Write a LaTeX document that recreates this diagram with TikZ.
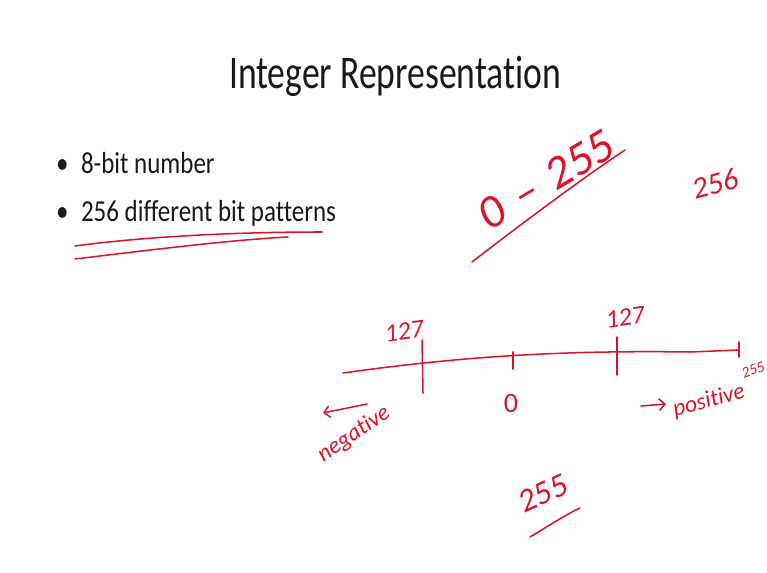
\documentclass[tikz,border=0pt]{standalone}
\usepackage{fontspec}
\setmainfont{Carlito}[Ligatures=NoCommon]
\usetikzlibrary{arrows.meta, positioning}
\definecolor{InkRed}{rgb}{0.86, 0.08, 0.16}
\definecolor{SlideText}{rgb}{0.1, 0.1, 0.1}
\newcommand{\squeeze}[2]{\scalebox{#1}[1]{#2}}

\begin{document}
\begin{tikzpicture}[
    x=0.03cm, y=-0.03cm,
    title/.style={font=\fontsize{40}{44}\selectfont, text=SlideText},
    bullet/.style={font=\fontsize{26}{30}\selectfont, text=SlideText, anchor=west},
    ink/.style={InkRed, line width=1.3pt, line cap=round, line join=round},
    inktext/.style={text=InkRed, font=\fontsize{20}{22}\selectfont\itshape},
    bigink/.style={text=InkRed, font=\fontsize{40}{42}\selectfont\itshape},
    tick/.style={ink},
]
\useasboundingbox (0,0) rectangle (767,573);

% slide
\node[title] (ttl) at (395,76) {\squeeze{0.76}{Integer Representation}};
\node[bullet] (b1) at (52,163) {\squeeze{0.82}{\textbullet\hspace{0.5em}8-bit number}};
\node[bullet] (b2) at (52,213) {\squeeze{0.82}{\textbullet\hspace{0.5em}256 different bit patterns}};

% underlines of the second bullet
\draw[ink] (75,246) .. controls (150,236) and (240,232) .. (322,232);
\draw[ink] (75,259) .. controls (150,250) and (230,240) .. (288,237);

% range written above
\node[bigink, rotate=31] (range) at (546,180) {0\,\,--\,\,255};
\draw[ink] (472,262) .. controls (520,225) and (580,180) .. (625,150);
\node[inktext, font=\fontsize{26}{28}\selectfont\itshape, rotate=15] (count) at (715,184) {256};

% number line
\coordinate (left) at (343,373);
\coordinate (right) at (739,350);
\draw[ink] (left) .. controls (450,358) and (550,350) .. (690,352) -- (right);
\draw[tick] (422,340) -- (423,393);
\draw[tick] (513,352) -- (513,369);
\draw[tick] (617,337) -- (617,375);
\draw[tick] (739,342) -- (739,357);
\node[inktext, font=\fontsize{22}{24}\selectfont\itshape, rotate=8] (n127) at (404,331) {127};
\node[inktext, font=\fontsize{22}{24}\selectfont\itshape, rotate=8] (p127) at (625,317) {127};
\node[inktext, font=\fontsize{24}{26}\selectfont] (zero) at (511,403) {0};
\node[inktext, font=\fontsize{13}{14}\selectfont\itshape, rotate=20] (top) at (753,370) {255};

% directions
\coordinate (negA) at (367,404);
\coordinate (negB) at (323,413);
\draw[ink, -{Straight Barb[length=5pt]}] (negA) -- (negB);
\node[inktext, rotate=34] (neg) at (354,434) {negative};
\coordinate (posA) at (641,406);
\coordinate (posB) at (666,404);
\draw[ink, -{Straight Barb[length=5pt]}] (posA) -- (posB);
\node[inktext, rotate=15] (pos) at (709,401) {positive};

% 255 below
\node[inktext, font=\fontsize{28}{30}\selectfont\itshape, rotate=25] (bot) at (543,493) {255};
\draw[ink] (530,537) .. controls (550,525) and (565,515) .. (580,508);
\end{tikzpicture}
\end{document}
